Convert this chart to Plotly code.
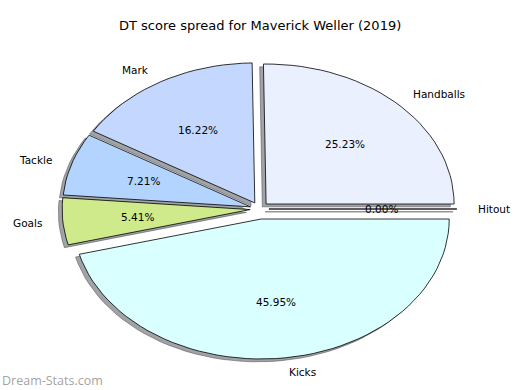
import math
import plotly.graph_objects as go

# ---- data ----
categories = ["Handballs", "Mark", "Tackle", "Goals", "Kicks", "Hitout"]
values = [28, 18, 8, 6, 51, 0]
colors = ["#EAF0FE", "#C4D8FF", "#B3D4FF", "#CEEA8A", "#D9FFFF", "#F0F0F0"]
title_text = "DT score spread for Maverick Weller (2019)"
watermark = "Dream-Stats.com"

# ---- style ----
explode = [0.05, 0.05, 0.05, 0.05, 0.072, 0.05]
LABEL_DIST = 1.1
PCT_DIST = 0.6
SHADOW_DX, SHADOW_DY = -0.02, -0.02
FONT = "DejaVu Sans"

total = sum(values)
fig = go.Figure()


def wedge(t1, t2, cx, cy, n=120):
    xs, ys = [cx], [cy]
    steps = max(2, int(n * (t2 - t1) / 360) + 2)
    for i in range(steps):
        a = math.radians(t1 + (t2 - t1) * i / (steps - 1))
        xs.append(cx + math.cos(a))
        ys.append(cy + math.sin(a))
    xs.append(cx)
    ys.append(cy)
    return xs, ys


geoms = []
theta = 0.0
for cat, v, e in zip(categories, values, explode):
    t2 = theta + 360.0 * v / total
    tm = math.radians((theta + t2) / 2)
    cx, cy = e * math.cos(tm), e * math.sin(tm)
    geoms.append((cat, v, theta, t2, tm, cx, cy))
    theta = t2

# shadows first (behind all wedges)
for cat, v, t1, t2, tm, cx, cy in geoms:
    xs, ys = wedge(t1, t2, cx + SHADOW_DX, cy + SHADOW_DY)
    fig.add_trace(go.Scatter(x=xs, y=ys, mode="lines", fill="toself",
                             fillcolor="rgba(70,72,77,0.5)",
                             line=dict(color="rgba(70,72,77,0.5)", width=1),
                             hoverinfo="skip", showlegend=False))

for (cat, v, t1, t2, tm, cx, cy), col in zip(geoms, colors):
    xs, ys = wedge(t1, t2, cx, cy)
    fig.add_trace(go.Scatter(x=xs, y=ys, mode="lines", fill="toself",
                             fillcolor=col, line=dict(color="black", width=0.8),
                             hoverinfo="skip", showlegend=False, name=cat))

annotations = []
for cat, v, t1, t2, tm, cx, cy in geoms:
    lx = cx + LABEL_DIST * math.cos(tm)
    ly = cy + LABEL_DIST * math.sin(tm)
    annotations.append(dict(x=lx, y=ly, xref="x", yref="y", text=cat, showarrow=False,
                            xanchor="left" if lx > 0 else "right", yanchor="middle",
                            font=dict(family=FONT, size=10.5, color="black")))
    px_ = cx + PCT_DIST * math.cos(tm)
    py_ = cy + PCT_DIST * math.sin(tm)
    annotations.append(dict(x=px_, y=py_, xref="x", yref="y",
                            text=f"{100.0 * v / total:.2f}%", showarrow=False,
                            xanchor="center", yanchor="middle",
                            font=dict(family=FONT, size=10.5, color="black")))

annotations.append(dict(x=260 / 520, y=1 - 26 / 390, xref="paper", yref="paper",
                        text=title_text, showarrow=False, xanchor="center",
                        yanchor="middle", font=dict(family=FONT, size=13, color="black")))
annotations.append(dict(x=0, y=1 - 380 / 390, xref="paper", yref="paper",
                        text=watermark, showarrow=False, xanchor="left",
                        yanchor="middle",
                        font=dict(family="Open Sans", size=12.5, color="rgba(150,150,150,0.9)")))

# pixel mapping: px = 259.5 + 188*x ; py = 209 - 140*y
RX, RY, CX, CY = 188.0, 140.0, 259.5, 209.0
fig.update_layout(
    width=520, height=390,
    margin=dict(l=0, r=0, t=0, b=0),
    paper_bgcolor="white", plot_bgcolor="white",
    xaxis=dict(range=[(0 - CX) / RX, (520 - CX) / RX], visible=False, fixedrange=True),
    yaxis=dict(range=[-(390 - CY) / RY, CY / RY], visible=False, fixedrange=True),
    annotations=annotations,
    showlegend=False,
)

fig.write_html("out.html", config={"displayModeBar": False},
               post_script="document.body.style.margin='0';document.body.style.overflow='hidden';")
